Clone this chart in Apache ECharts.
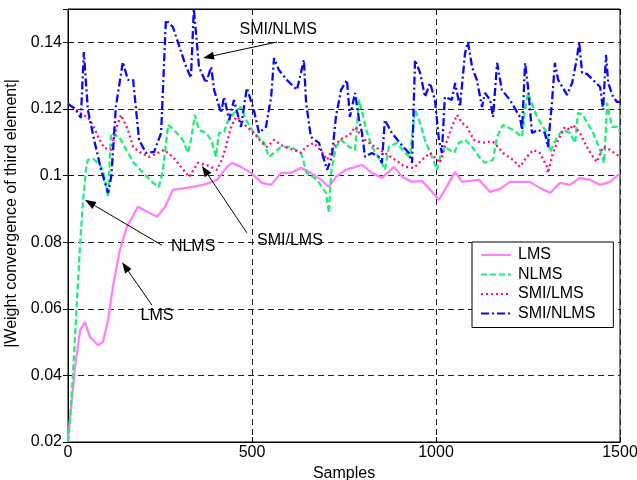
<!DOCTYPE html>
<html><head><meta charset="utf-8">
<script src="https://cdn.jsdelivr.net/npm/echarts@6/dist/echarts.min.js"></script>
<style>html,body{margin:0;padding:0;background:#fff}#c{width:637px;height:480px}</style>
</head><body><div id="c"></div><script>
// ---- data ----
const seriesNames = ['LMS', 'NLMS', 'SMI/LMS', 'SMI/NLMS'];
const xTicks = [0, 500, 1000, 1500];
const yTicks = [0.02, 0.04, 0.06, 0.08, 0.1, 0.12, 0.14];

const lmsX = [0,19,33,46,60,82,95,109,122,141,160,190,215,242,264,285,323,367,405,432,446,470,497,527,552,579,606,633,660,688,709,728,755,772,799,826,853,886,908,935,962,984,1008,1024,1052,1071,1090,1117,1147,1174,1201,1228,1255,1282,1310,1337,1364,1391,1419,1446,1473,1495,1500];
const lmsY = [0.0206,0.0425,0.0536,0.0560,0.0515,0.0491,0.0500,0.0566,0.0666,0.0777,0.0846,0.0906,0.0891,0.0876,0.0906,0.0957,0.0963,0.0972,0.0987,0.1026,0.1038,0.1026,0.1008,0.0978,0.0972,0.1008,0.1008,0.1023,0.1008,0.0987,0.0966,0.0996,0.1017,0.1023,0.1032,0.1008,0.0993,0.1026,0.0996,0.0981,0.0984,0.0957,0.0927,0.0957,0.1011,0.0981,0.0984,0.0987,0.0951,0.0960,0.0981,0.0981,0.0981,0.0963,0.0948,0.0978,0.0972,0.0993,0.0987,0.0972,0.0981,0.1002,0.1005];

const nlmsX = [0,5,13,33,41,50,54,68,82,95,109,117,139,163,179,204,231,247,258,272,288,312,326,334,345,356,375,389,402,410,424,432,451,470,484,505,533,546,560,579,606,633,641,649,677,701,709,715,728,742,764,780,791,804,813,826,853,861,872,894,916,929,943,954,970,989,1003,1011,1024,1049,1062,1079,1098,1117,1133,1155,1166,1182,1209,1234,1242,1250,1274,1302,1310,1329,1345,1364,1378,1386,1399,1427,1446,1457,1465,1478,1492,1500];
const nlmsY = [0.0200,0.0260,0.0396,0.0797,0.0926,0.1030,0.1047,0.1050,0.1038,0.1017,0.0936,0.1128,0.1116,0.1068,0.1038,0.1008,0.0978,0.0966,0.1017,0.1152,0.1137,0.1107,0.1068,0.1107,0.1182,0.1137,0.1128,0.1107,0.1056,0.1128,0.1128,0.1158,0.1188,0.1206,0.1167,0.1128,0.1098,0.1056,0.1068,0.1086,0.1086,0.1068,0.1038,0.1008,0.0987,0.0948,0.0888,0.1008,0.1086,0.1107,0.1086,0.1077,0.1227,0.1167,0.1128,0.1086,0.1038,0.1017,0.1086,0.1098,0.1068,0.1056,0.1197,0.1167,0.1107,0.1056,0.1017,0.1056,0.1086,0.1068,0.1098,0.1107,0.1086,0.1056,0.1038,0.1047,0.1116,0.1152,0.1137,0.1116,0.1197,0.1248,0.1176,0.1128,0.1071,0.1116,0.1137,0.1128,0.1098,0.1188,0.1182,0.1128,0.1077,0.1038,0.1218,0.1146,0.1146,0.1131];

const smiLmsX = [0,20,40,54,68,82,98,117,130,144,163,177,198,220,245,261,285,307,329,353,375,389,405,418,429,443,457,470,486,505,527,541,560,587,614,633,647,668,690,704,717,731,750,764,780,791,807,834,861,889,916,940,962,984,1003,1011,1024,1043,1057,1071,1084,1103,1125,1138,1155,1168,1182,1209,1228,1247,1264,1282,1302,1304,1318,1332,1350,1364,1372,1391,1410,1427,1437,1454,1473,1500];
const smiLmsY = [0.1215,0.1200,0.1182,0.1176,0.1150,0.1116,0.1083,0.1077,0.1137,0.1182,0.1137,0.1086,0.1068,0.1056,0.1068,0.1077,0.1056,0.1026,0.0996,0.1038,0.1032,0.1026,0.1017,0.1047,0.1086,0.1146,0.1176,0.1167,0.1146,0.1128,0.1098,0.1086,0.1107,0.1086,0.1077,0.1068,0.1086,0.1098,0.1071,0.1047,0.1077,0.1098,0.1116,0.1120,0.1146,0.1128,0.1107,0.1086,0.1068,0.1047,0.1026,0.1023,0.1047,0.1068,0.1047,0.1038,0.1086,0.1146,0.1182,0.1158,0.1146,0.1107,0.1098,0.1101,0.1101,0.1086,0.1068,0.1047,0.1026,0.1056,0.1077,0.1068,0.1026,0.1008,0.1068,0.1107,0.1146,0.1137,0.1152,0.1128,0.1086,0.1056,0.1041,0.1086,0.1077,0.1056];

const smiNlmsX = [0,20,35,43,54,71,90,109,118,130,149,163,177,193,212,234,253,266,285,321,334,342,356,375,389,397,416,424,438,451,470,486,505,519,538,552,560,573,595,622,641,647,660,682,704,717,728,742,758,766,780,791,799,807,826,845,853,861,880,902,926,935,943,957,970,984,997,1008,1016,1024,1043,1052,1065,1079,1087,1098,1111,1125,1133,1147,1155,1166,1179,1201,1228,1234,1242,1250,1261,1277,1296,1304,1315,1323,1332,1356,1370,1383,1389,1397,1410,1427,1446,1454,1462,1468,1481,1492,1500];
const smiNlmsY = [0.1215,0.1200,0.1173,0.1371,0.1197,0.1107,0.1017,0.0948,0.1000,0.1206,0.1341,0.1287,0.1287,0.1107,0.1068,0.1071,0.1128,0.1467,0.1446,0.1326,0.1293,0.1500,0.1326,0.1278,0.1326,0.1257,0.1188,0.1236,0.1167,0.1227,0.1146,0.1263,0.1197,0.1128,0.1146,0.1236,0.1353,0.1317,0.1287,0.1257,0.1347,0.1218,0.1116,0.1098,0.1017,0.1056,0.1176,0.1257,0.1287,0.1176,0.1248,0.1167,0.1128,0.1056,0.1068,0.1056,0.1038,0.1167,0.1128,0.1098,0.1068,0.1038,0.1347,0.1308,0.1236,0.1278,0.1227,0.1107,0.1068,0.1236,0.1227,0.1278,0.1206,0.1368,0.1401,0.1326,0.1287,0.1206,0.1248,0.1227,0.1176,0.1338,0.1257,0.1227,0.1176,0.1137,0.1338,0.1266,0.1128,0.1137,0.1128,0.1086,0.1218,0.1338,0.1287,0.1242,0.1278,0.1353,0.1401,0.1308,0.1305,0.1287,0.1266,0.1197,0.1362,0.1278,0.1236,0.1221,0.1221];

// annotations (data coordinates)
const annoText = ['SMI/NLMS', 'SMI/LMS', 'NLMS', 'LMS'];
const annoTextAt = [[571, 0.1437], [603, 0.0804], [340, 0.0788], [242, 0.0581]];
const annoFrom = [[568, 0.1401], [486, 0.0828], [255, 0.0791], [228, 0.0611]];
const annoTo = [[367, 0.1353], [364, 0.1029], [46, 0.0927], [147, 0.0740]];

// ---- chart ----
const FONT = 'Liberation Sans, Arial, sans-serif';
const pairs = (xs, ys) => xs.map((x, i) => [x, ys[i]]);
const colors = ['#ff80ff', '#22ee77', '#ff0a7a', '#0a0aee'];
const dashes = ['solid', [6, 3], [2, 3], [8, 3, 2, 3]];
const allData = [pairs(lmsX, lmsY), pairs(nlmsX, nlmsY), pairs(smiLmsX, smiLmsY), pairs(smiNlmsX, smiNlmsY)];

const chart = echarts.init(document.getElementById('c'), null, {renderer: 'canvas'});
const gridLine = {show: true, lineStyle: {color: '#222', type: [6, 4], width: 1}};
const tickStyle = {show: true, inside: true, length: 5, lineStyle: {color: '#000'}};
const option = {
  animation: false,
  backgroundColor: '#fff',
  textStyle: {fontFamily: FONT},
  grid: {left: 68, right: 17, top: 9, bottom: 38, containLabel: false, outerBoundsMode: 'none',
    show: true, borderColor: '#000', borderWidth: 1, backgroundColor: '#fff'},
  xAxis: [{
    type: 'value', min: 0, max: 1500, interval: 500,
    name: 'Samples', nameLocation: 'middle', nameGap: 17,
    nameTextStyle: {fontSize: 16, color: '#000', fontFamily: FONT},
    axisLine: {show: true, lineStyle: {color: '#000'}},
    axisTick: tickStyle,
    axisLabel: {fontSize: 16, color: '#000', margin: 3, fontFamily: FONT, formatter: v => xTicks.includes(v) ? String(v) : ''},
    splitLine: gridLine
  }, {
    type: 'value', min: 0, max: 1500, interval: 500, position: 'top',
    axisLine: {show: true, lineStyle: {color: '#000'}}, axisTick: tickStyle,
    axisLabel: {show: false}, splitLine: {show: false}
  }],
  yAxis: [{
    type: 'value', min: 0.02, max: 0.15, interval: 0.02,
    name: '|Weight convergence of third element|', nameLocation: 'middle', nameGap: 43,
    nameTextStyle: {fontSize: 16, color: '#000', fontFamily: FONT, padding: [0, 0, 0, 24]},
    axisLine: {show: true, lineStyle: {color: '#000'}},
    axisTick: tickStyle,
    axisLabel: {fontSize: 16, color: '#000', margin: 6, showMaxLabel: false, fontFamily: FONT,
      formatter: v => { const r = Math.round(v * 100) / 100; return yTicks.some(t => Math.abs(t - r) < 1e-9) && Math.abs(v - r) < 1e-6 ? String(r) : ''; }},
    splitLine: gridLine
  }, {
    type: 'value', min: 0.02, max: 0.15, interval: 0.02, position: 'right',
    axisLine: {show: true, lineStyle: {color: '#000'}}, axisTick: tickStyle,
    axisLabel: {show: false}, splitLine: {show: false}
  }],
  legend: {
    data: seriesNames, orient: 'vertical', left: 472, top: 242,
    backgroundColor: '#fff', borderColor: '#000', borderWidth: 1,
    padding: [5, 18, 6, 8], itemGap: 3.5, itemWidth: 30, itemHeight: 14,
    itemStyle: {opacity: 0},
    textStyle: {fontSize: 16, color: '#000', fontFamily: FONT, padding: [0, 0, 0, 2]}
  },
  series: seriesNames.map((n, i) => ({
    name: n, type: 'line', data: allData[i], symbol: 'none', showSymbol: false,
    xAxisIndex: 0, yAxisIndex: 0, clip: true,
    lineStyle: {color: colors[i], width: 2.3, type: dashes[i]},
    itemStyle: {color: colors[i]}, z: 2 + i
  }))
};
chart.setOption(option);

// annotation arrows/text placed via the chart's own scales
const g = [];
for (let i = 0; i < annoText.length; i++) {
  const a = chart.convertToPixel({gridIndex: 0}, annoFrom[i]);
  const b = chart.convertToPixel({gridIndex: 0}, annoTo[i]);
  const t = chart.convertToPixel({gridIndex: 0}, annoTextAt[i]);
  const dx = b[0] - a[0], dy = b[1] - a[1], L = Math.hypot(dx, dy);
  const ux = dx / L, uy = dy / L, hl = 11, hw = 4;
  const bx = b[0] - ux * hl, by = b[1] - uy * hl;
  g.push({type: 'line', z: 50, shape: {x1: a[0], y1: a[1], x2: bx, y2: by}, style: {stroke: '#000', lineWidth: 1}});
  g.push({type: 'polygon', z: 50, shape: {points: [[b[0], b[1]], [bx - uy * hw, by + ux * hw], [bx + uy * hw, by - ux * hw]]}, style: {fill: '#000'}});
  g.push({type: 'text', z: 50, x: t[0], y: t[1], style: {text: annoText[i], fill: '#000', font: '16px ' + FONT, textAlign: 'center', textVerticalAlign: 'middle'}});
}
chart.setOption({graphic: g});
</script></body></html>
